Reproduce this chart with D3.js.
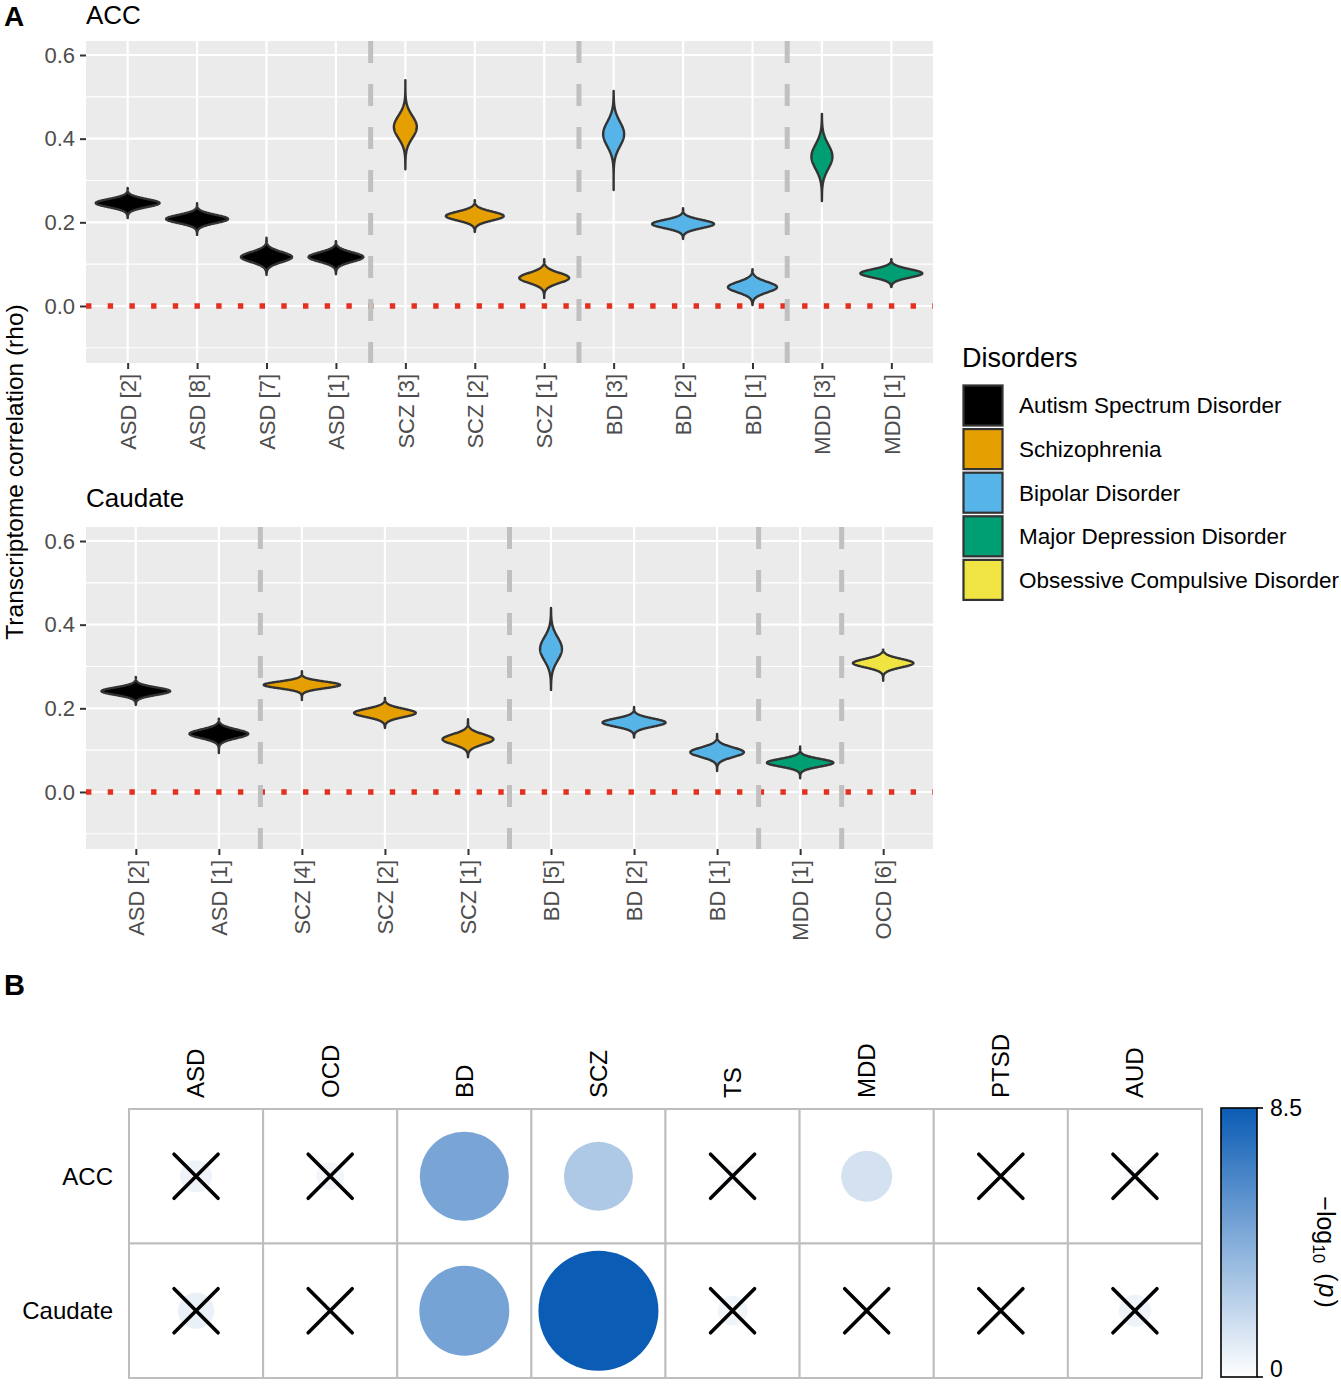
<!DOCTYPE html>
<html>
<head>
<meta charset="utf-8">
<script src="https://cdn.jsdelivr.net/npm/d3@7"></script>
<style>
  body { margin: 0; background: #ffffff; }
  text { font-family: "Liberation Sans", Arial, Helvetica, sans-serif; }
</style>
</head>
<body>
<script>
// ---------------- DATA ----------------
// Panel A – ACC
const accLabels    = ["ASD [2]","ASD [8]","ASD [7]","ASD [1]","SCZ [3]","SCZ [2]","SCZ [1]","BD [3]","BD [2]","BD [1]","MDD [3]","MDD [1]"];
const accDisorders = ["ASD","ASD","ASD","ASD","SCZ","SCZ","SCZ","BD","BD","BD","MDD","MDD"];
const accMedian    = [0.246,0.208,0.117,0.117,0.428,0.215,0.067,0.411,0.196,0.045,0.357,0.078];
const accMin       = [0.210,0.170,0.074,0.076,0.327,0.177,0.019,0.277,0.160,0.002,0.251,0.045];
const accMax       = [0.282,0.246,0.163,0.155,0.540,0.253,0.112,0.514,0.234,0.088,0.459,0.112];
const accSD        = [0.0096,0.0099,0.0120,0.0112,0.0267,0.0106,0.0123,0.0292,0.0099,0.0125,0.0292,0.0099];

// Panel A – Caudate
const caudLabels    = ["ASD [2]","ASD [1]","SCZ [4]","SCZ [2]","SCZ [1]","BD [5]","BD [2]","BD [1]","MDD [1]","OCD [6]"];
const caudDisorders = ["ASD","ASD","SCZ","SCZ","SCZ","BD","BD","BD","MDD","OCD"];
const caudMedian    = [0.241,0.139,0.256,0.189,0.126,0.342,0.166,0.095,0.070,0.308];
const caudMin       = [0.208,0.093,0.220,0.153,0.083,0.244,0.130,0.050,0.033,0.266];
const caudMax       = [0.275,0.175,0.289,0.225,0.174,0.440,0.203,0.139,0.109,0.340];
const caudSD        = [0.0089,0.0104,0.0080,0.0099,0.0120,0.0279,0.0097,0.0114,0.0092,0.0101];

const yMajorTicks = [0, 0.2, 0.4, 0.6];
const yMinorTicks = [-0.1, 0.1, 0.3, 0.5];

// Legend
const legendKeys   = ["ASD","SCZ","BD","MDD","OCD"];
const legendLabels = ["Autism Spectrum Disorder","Schizophrenia","Bipolar Disorder","Major Depression Disorder","Obsessive Compulsive Disorder"];
const legendColors = ["#000000","#E69F00","#56B4E9","#009E73","#F0E442"];

// Panel B
const bCols = ["ASD","OCD","BD","SCZ","TS","MDD","PTSD","AUD"];
const bRows = ["ACC","Caudate"];
const accLogP   = [0.60,0.46,4.68,2.81,0.29,1.54,0.04,0.29];
const caudLogP  = [0.77,0.24,4.78,8.50,0.53,0.04,0.04,0.60];
const accSig    = [false,false,true,true,false,true,false,false];
const caudSig   = [false,false,true,true,false,false,false,false];
const colorbarTicks = [0, 8.5];

// ---------------- DRAW ----------------
const W = 1341, H = 1385;
const svg = d3.select("body").append("svg").attr("width", W).attr("height", H);

const fillScale = d3.scaleOrdinal().domain(legendKeys).range(legendColors);
const pLeft = 86, pRight = 933, pH = 322;

function drawViolinPanel(opt) {
  const g = svg.append("g");
  const top = opt.top;
  const y = d3.scaleLinear().domain([-0.1363, 0.6335]).range([top + pH, top]);
  const x = d3.scalePoint().domain(opt.labels).range([pLeft, pRight]).padding(0.6);

  g.append("rect").attr("x", pLeft).attr("y", top).attr("width", pRight - pLeft).attr("height", pH).attr("fill", "#EBEBEB");
  g.selectAll(".minor").data(yMinorTicks).join("line")
    .attr("x1", pLeft).attr("x2", pRight).attr("y1", d => y(d)).attr("y2", d => y(d))
    .attr("stroke", "#fff").attr("stroke-width", 1.1);
  g.selectAll(".major").data(yMajorTicks).join("line")
    .attr("x1", pLeft).attr("x2", pRight).attr("y1", d => y(d)).attr("y2", d => y(d))
    .attr("stroke", "#fff").attr("stroke-width", 2.2);
  g.selectAll(".vmajor").data(opt.labels).join("line")
    .attr("x1", d => x(d)).attr("x2", d => x(d)).attr("y1", top).attr("y2", top + pH)
    .attr("stroke", "#fff").attr("stroke-width", 2.2);

  // red dotted zero line
  g.append("line").attr("x1", pLeft).attr("x2", pRight).attr("y1", y(0)).attr("y2", y(0))
    .attr("stroke", "#E3301F").attr("stroke-width", 5.4).attr("stroke-dasharray", "5.4,16.3");

  // dashed separators between disorders
  const seps = [];
  for (let i = 1; i < opt.labels.length; i++) {
    if (opt.dis[i] !== opt.dis[i - 1]) seps.push((x(opt.labels[i]) + x(opt.labels[i - 1])) / 2);
  }
  g.selectAll(".sep").data(seps).join("line")
    .attr("x1", d => d).attr("x2", d => d).attr("y1", top).attr("y2", top + pH)
    .attr("stroke", "#C0C0C0").attr("stroke-width", 5).attr("stroke-dasharray", "22,21");

  // violins
  const pdf = (v, m, s) => Math.exp(-0.5 * ((v - m) / s) ** 2) / (s * Math.sqrt(2 * Math.PI));
  const maxPdf = d3.max(opt.sd, s => 1 / (s * Math.sqrt(2 * Math.PI)));
  const hw = d3.scaleLinear().domain([0, maxPdf]).range([0, 0.46 * x.step()]);
  const line = d3.line();
  opt.labels.forEach((lab, i) => {
    const m = opt.med[i], s = opt.sd[i], lo = opt.lo[i], hi = opt.hi[i];
    const n = 160;
    const vs = d3.range(n + 1).map(k => lo + (hi - lo) * k / n);
    const cx = x(lab);
    const right = vs.map(v => [cx + hw(pdf(v, m, s)), y(v)]);
    const left = vs.slice().reverse().map(v => [cx - hw(pdf(v, m, s)), y(v)]);
    g.append("path").attr("d", line(right.concat(left)) + "Z")
      .attr("fill", fillScale(opt.dis[i])).attr("stroke", "#333333")
      .attr("stroke-width", 2.4).attr("stroke-linejoin", "round");
  });

  // axes
  const ya = g.append("g").attr("transform", `translate(${pLeft},0)`)
    .call(d3.axisLeft(y).tickValues(yMajorTicks).tickFormat(d3.format(".1f")).tickSize(6).tickPadding(5));
  ya.select(".domain").remove();
  ya.selectAll("line").attr("stroke", "#333333").attr("stroke-width", 2);
  ya.selectAll("text").attr("fill", "#4D4D4D").style("font-size", "22px")
    .style("font-family", '"Liberation Sans", Arial, sans-serif');

  const xa = g.append("g").attr("transform", `translate(0,${top + pH})`)
    .call(d3.axisBottom(x).tickSize(6).tickPadding(5));
  xa.select(".domain").remove();
  xa.selectAll("line").attr("stroke", "#333333").attr("stroke-width", 2);
  xa.selectAll("text").attr("fill", "#4D4D4D").style("font-size", "22px")
    .style("font-family", '"Liberation Sans", Arial, sans-serif')
    .attr("transform", "rotate(-90)").attr("text-anchor", "end")
    .attr("x", -11).attr("y", 0).attr("dy", "0.35em");

  svg.append("text").attr("x", 86).attr("y", opt.titleY).text(opt.title)
    .style("font-size", "26px").attr("fill", "#000");
}

drawViolinPanel({ top: 41, labels: accLabels, dis: accDisorders, med: accMedian, lo: accMin, hi: accMax, sd: accSD, title: "ACC", titleY: 24 });
drawViolinPanel({ top: 527, labels: caudLabels, dis: caudDisorders, med: caudMedian, lo: caudMin, hi: caudMax, sd: caudSD, title: "Caudate", titleY: 507 });

// panel letters
svg.append("text").attr("x", 4).attr("y", 26).text("A").style("font-size", "28px").style("font-weight", "bold");
svg.append("text").attr("x", 4).attr("y", 995).text("B").style("font-size", "29px").style("font-weight", "bold");

// y-axis title
svg.append("text").attr("transform", "translate(23,472) rotate(-90)").attr("text-anchor", "middle")
  .text("Transcriptome correlation (rho)").style("font-size", "24.5px");

// legend
const lg = svg.append("g");
lg.append("text").attr("x", 962).attr("y", 367).text("Disorders").style("font-size", "27px");
legendKeys.forEach((k, i) => {
  const yy = 384 + i * 43.6;
  lg.append("rect").attr("x", 962).attr("y", yy).attr("width", 42).attr("height", 43).attr("fill", "#F2F2F2");
  lg.append("rect").attr("x", 963.5).attr("y", yy + 1.5).attr("width", 39).attr("height", 40)
    .attr("fill", fillScale(k)).attr("stroke", "#333333").attr("stroke-width", 2.2);
  lg.append("text").attr("x", 1019).attr("y", yy + 21.5).attr("dy", "0.35em")
    .text(legendLabels[i]).style("font-size", "22.5px");
});

// ---------------- Panel B ----------------
const xB = d3.scaleBand().domain(bCols).range([129, 1202]);
const yB = d3.scaleBand().domain(bRows).range([1109, 1378]);
const colorB = d3.scaleLinear().domain([0, 8.5]).range(["#FFFFFF", "#0B5CB4"]);
const rB = d3.scaleSqrt().domain([0, 8.5]).range([0, 60]);

const cells = [];
bRows.forEach((r, ri) => {
  bCols.forEach((c, ci) => {
    const v = ri === 0 ? accLogP[ci] : caudLogP[ci];
    const sig = ri === 0 ? accSig[ci] : caudSig[ci];
    cells.push({ r, c, v, sig });
  });
});
const gb = svg.append("g");
gb.selectAll(".cell").data(cells).join("rect")
  .attr("x", d => xB(d.c)).attr("y", d => yB(d.r))
  .attr("width", xB.bandwidth()).attr("height", yB.bandwidth())
  .attr("fill", "#fff").attr("stroke", "#BEBEBE").attr("stroke-width", 2);
gb.selectAll(".dot").data(cells).join("circle")
  .attr("cx", d => xB(d.c) + xB.bandwidth() / 2).attr("cy", d => yB(d.r) + yB.bandwidth() / 2)
  .attr("r", d => rB(d.v)).attr("fill", d => colorB(d.v));
const xs = 22;
cells.filter(d => !d.sig).forEach(d => {
  const cx = xB(d.c) + xB.bandwidth() / 2, cy = yB(d.r) + yB.bandwidth() / 2;
  gb.append("path").attr("d", `M${cx - xs},${cy - xs}L${cx + xs},${cy + xs}M${cx - xs},${cy + xs}L${cx + xs},${cy - xs}`)
    .attr("stroke", "#000").attr("stroke-width", 3.6).attr("stroke-linecap", "round");
});
gb.selectAll(".colLab").data(bCols).join("text")
  .attr("transform", d => `translate(${xB(d) + xB.bandwidth() / 2},1098) rotate(-90)`)
  .attr("dy", "0.35em").attr("text-anchor", "start").text(d => d).style("font-size", "24px");
gb.selectAll(".rowLab").data(bRows).join("text")
  .attr("x", 113).attr("y", d => yB(d) + yB.bandwidth() / 2).attr("dy", "0.35em")
  .attr("text-anchor", "end").text(d => d).style("font-size", "24px");

// colorbar
const defs = svg.append("defs");
const grad = defs.append("linearGradient").attr("id", "cbar").attr("x1", 0).attr("y1", 1).attr("x2", 0).attr("y2", 0);
d3.range(0, 1.0001, 0.1).forEach(t => {
  grad.append("stop").attr("offset", t).attr("stop-color", colorB(t * 8.5));
});
const cbY = d3.scaleLinear().domain([0, 8.5]).range([1377, 1108]);
svg.append("rect").attr("x", 1221).attr("y", cbY(8.5)).attr("width", 36).attr("height", cbY(0) - cbY(8.5))
  .attr("fill", "url(#cbar)").attr("stroke", "#000").attr("stroke-width", 1.6);
colorbarTicks.forEach(t => {
  svg.append("line").attr("x1", 1257).attr("x2", 1263).attr("y1", cbY(t)).attr("y2", cbY(t))
    .attr("stroke", "#000").attr("stroke-width", 1.6);
  svg.append("text").attr("x", 1270).attr("y", Math.min(cbY(t), 1369)).attr("dy", "0.35em")
    .text(d3.format("")(t)).style("font-size", "23px");
});
const ct = svg.append("text").attr("transform", "translate(1326,1252) rotate(90)")
  .attr("text-anchor", "middle").attr("dy", "0.35em").style("font-size", "25px");
ct.append("tspan").text("\u2212log");
ct.append("tspan").attr("dy", "0.25em").style("font-size", "17px").text("10");
ct.append("tspan").attr("dy", "-0.25em").attr("dx", "10").text("(");
ct.append("tspan").attr("dx", "2").style("font-style", "italic").text("p");
ct.append("tspan").attr("dx", "2").text(")");
</script>
</body>
</html>
